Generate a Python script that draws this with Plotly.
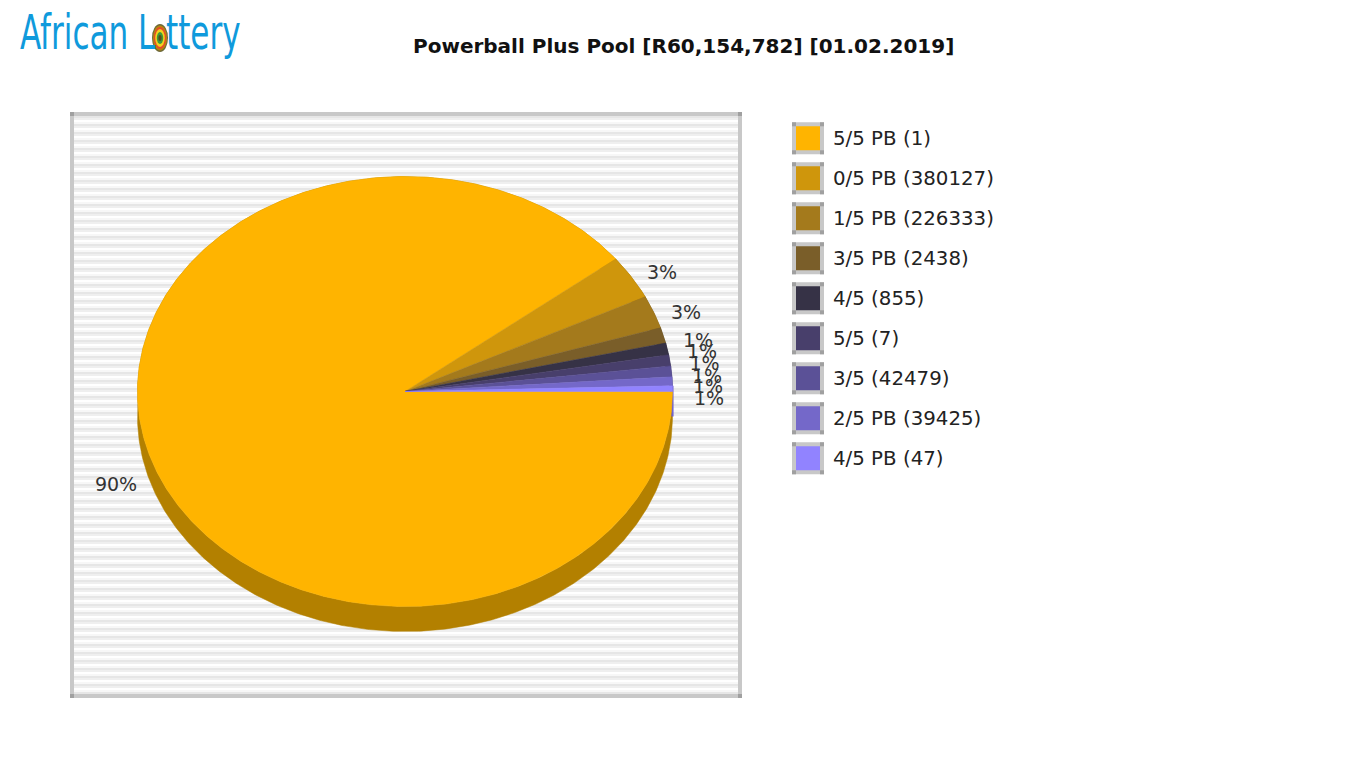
import math
import plotly.graph_objects as go

# ---- data ----
categories = ["5/5 PB (1)", "0/5 PB (380127)", "1/5 PB (226333)", "3/5 PB (2438)", "4/5 (855)",
              "5/5 (7)", "3/5 (42479)", "2/5 PB (39425)", "4/5 PB (47)"]
shares = [89.44, 3.31, 2.47, 1.17, 0.89, 0.83, 0.81, 0.67, 0.42]
pct_labels = ["90%", "3%", "3%", "1%", "1%", "1%", "1%", "1%", "1%"]
title_text = "Powerball Plus Pool [R60,154,782] [01.02.2019]"

# ---- styling / layout ----
colors = ["#FFB400", "#CF960C", "#A47A1C", "#7A5E29", "#363246", "#483F6B", "#5B5197", "#7468C9", "#9183FF"]
rim_colors = ["#B38000", "#91690A", "#735514", "#55421D", "#262331", "#322C4B", "#40396A", "#51498D", "#7263CC"]
label_x = [116, 662, 686, 698, 702, 704.5, 707, 708, 709]
label_y = [486, 274, 314, 342, 353, 365.5, 378, 388, 400]
CX, CY, RX, RY, DEPTH = 405, 391.5, 267.5, 215, 25
LEG_X0, LEG_Y0, LEG_DY = 808, 138.3, 40
LEG_TEXT_DY = 2


def arc(a0, a1):
    n = max(2, int(abs(a1 - a0) * 2))
    return [(CX + RX * math.cos(math.radians(a0 + (a1 - a0) * i / n)),
             CY - RY * math.sin(math.radians(a0 + (a1 - a0) * i / n))) for i in range(n + 1)]


total = sum(shares)
bounds = []
acc = 0.0
for s in shares:
    bounds.append(acc)
    acc += s * 360 / total
bounds.append(acc)
# slices run clockwise on screen from the 3 o'clock position
angles = [(-bounds[i], -bounds[i + 1]) for i in range(len(shares))]

traces = []
# rims
for i in range(len(shares)):
    a0, a1 = angles[i]
    pts = arc(a0, a1)
    xs = [p[0] for p in pts] + [p[0] for p in reversed(pts)] + [pts[0][0]]
    ys = [p[1] for p in pts] + [p[1] + DEPTH for p in reversed(pts)] + [pts[0][1]]
    lw = 2.2 if i == len(shares) - 1 else 0.5
    traces.append(go.Scatter(x=xs, y=ys, mode="lines", fill="toself", fillcolor=rim_colors[i],
                             line=dict(color=rim_colors[i], width=lw), hoverinfo="skip", showlegend=False))
# tops
for i in range(len(shares)):
    a0, a1 = angles[i]
    pts = arc(a0, a1)
    xs = [CX] + [p[0] for p in pts] + [CX]
    ys = [CY] + [p[1] for p in pts] + [CY]
    traces.append(go.Scatter(x=xs, y=ys, mode="lines", fill="toself", fillcolor=colors[i],
                             line=dict(color=colors[i], width=0.5), name=categories[i],
                             hoverinfo="name", showlegend=False))

# percentage labels
traces.append(go.Scatter(x=label_x, y=label_y, mode="text", text=pct_labels, textposition="middle center",
                         textfont=dict(family="DejaVu Sans", size=19, color="#333333"),
                         hoverinfo="skip", showlegend=False))
# legend swatches and texts
leg_y = [LEG_Y0 + i * LEG_DY for i in range(len(categories))]
traces.append(go.Scatter(x=[LEG_X0] * len(categories), y=leg_y, mode="markers",
                         marker=dict(symbol="square", size=28, color=colors,
                                     line=dict(color="#C8C8C8", width=4)),
                         hoverinfo="skip", showlegend=False))
traces.append(go.Scatter(x=[833] * len(categories), y=[v + LEG_TEXT_DY for v in leg_y], mode="text", text=categories,
                         textposition="middle right",
                         textfont=dict(family="DejaVu Sans", size=19.8, color="#222222"),
                         hoverinfo="skip", showlegend=False))

# plot background: frame and horizontal stripes
FX0, FX1, FY0, FY1 = 72, 740, 114, 696
IX0, IX1, IY0, IY1 = 74, 738, 116, 694
shapes = [dict(type="rect", xref="x", yref="y", x0=FX0 - 2, x1=FX1 + 2, y0=FY0 - 2, y1=FY1 + 2,
               fillcolor="#C8C8C8", line_width=0, layer="below")]
shapes.append(dict(type="rect", xref="x", yref="y", x0=IX0, x1=IX1, y0=IY0, y1=IY1,
                   fillcolor="#FFFFFF", line_width=0, layer="below"))
tones = [("#E6E6E6", 0), ("#EFEFEF", 2), ("#F7F7F7", 6)]
for tone, off in tones:
    path = ""
    y = IY0
    while y < IY1:
        y0, y1 = y + off, min(y + off + 2, IY1)
        if y0 < IY1:
            path += f"M{IX0},{y0}L{IX1},{y0}L{IX1},{y1}L{IX0},{y1}Z"
        y += 8
    shapes.append(dict(type="path", xref="x", yref="y", path=path, fillcolor=tone, line_width=0, layer="below"))
for cx, cy in [(72, 114), (740, 114), (72, 696), (740, 696)]:
    shapes.append(dict(type="rect", xref="x", yref="y", x0=cx - 2, x1=cx + 2, y0=cy - 2, y1=cy + 2,
                       fillcolor="#A0A0A0", line_width=0, layer="below"))
# legend swatch corners
for yy in leg_y:
    for dx in (-14, 14):
        for dy in (-14, 14):
            shapes.append(dict(type="rect", xref="x", yref="y", x0=LEG_X0 + dx - 2, x1=LEG_X0 + dx + 2,
                               y0=yy + dy - 2, y1=yy + dy + 2, fillcolor="#A0A0A0", line_width=0, layer="above"))
# logo emblem
for rx, ry, col in [(8, 14, "#6E6A3A"), (7, 12.5, "#B8860B"), (6, 11, "#E8482A"), (4.8, 9, "#F2D21E"),
                    (3.2, 6, "#3E9A3A"), (1.6, 3, "#5A4A20")]:
    shapes.append(dict(type="circle", xref="x", yref="y", x0=160 - rx, x1=160 + rx, y0=38 - ry, y1=38 + ry,
                       fillcolor=col, line_width=0, layer="above"))

annotations = [
    dict(x=683.5, y=46, xref="x", yref="y", text=f"<b>{title_text}</b>", showarrow=False,
         font=dict(family="DejaVu Sans", size=20, color="#111111")),
    dict(x=18, y=32, xref="x", yref="y", text="African L", showarrow=False, xanchor="left",
         font=dict(family="DejaVu Sans Condensed", size=48, color="#0F9ADC")),
    dict(x=164, y=32, xref="x", yref="y", text="ttery", showarrow=False, xanchor="left",
         font=dict(family="DejaVu Sans Condensed", size=48, color="#0F9ADC")),
]

LOGO_SQUEEZE = """
document.body.style.margin='0';document.body.style.overflow='hidden';
document.querySelectorAll('.annotation-text').forEach(function(t){
  var s=t.textContent;
  if(s==='African L'||s==='ttery'){
    t.style.transformBox='fill-box';t.style.transformOrigin='left center';t.style.transform='scaleX(0.72)';
  }
});
"""

fig = go.Figure(traces)
fig.update_layout(width=1366, height=768, margin=dict(l=0, r=0, t=0, b=0), paper_bgcolor="white",
                  plot_bgcolor="rgba(0,0,0,0)", shapes=shapes, annotations=annotations,
                  xaxis=dict(range=[0, 1366], visible=False, fixedrange=True),
                  yaxis=dict(range=[768, 0], visible=False, fixedrange=True))
fig.write_html("out.html", config={"displayModeBar": False}, post_script=LOGO_SQUEEZE)
